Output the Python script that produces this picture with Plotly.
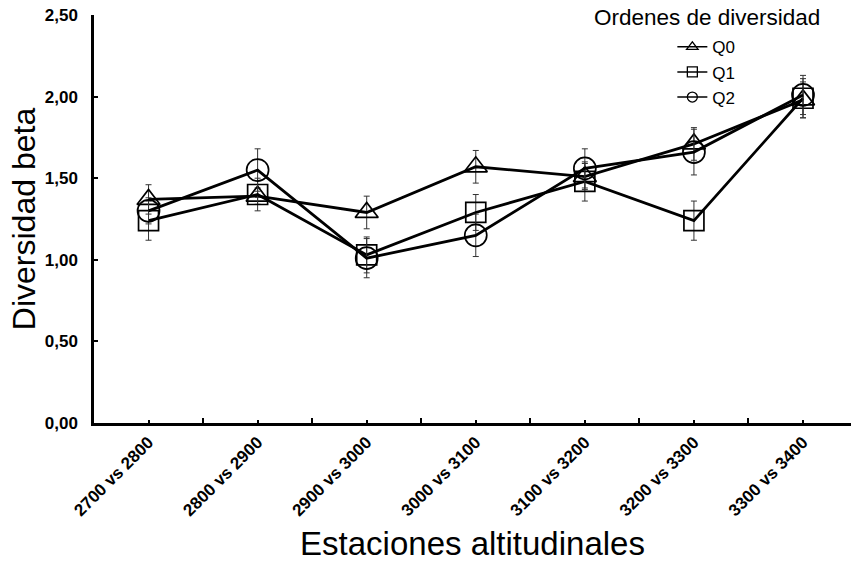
import plotly.graph_objects as go

categories = ["2700 vs 2800", "2800 vs 2900", "2900 vs 3000", "3000 vs 3100",
              "3100 vs 3200", "3200 vs 3300", "3300 vs 3400"]
q0 = [1.37, 1.39, 1.29, 1.57, 1.51, 1.71, 1.98]
q1 = [1.24, 1.40, 1.03, 1.29, 1.48, 1.24, 1.99]
q2 = [1.30, 1.55, 1.01, 1.15, 1.56, 1.66, 2.01]
q0_err = [0.09, 0.05, 0.10, 0.10, 0.08, 0.10, 0.11]
q1_err = [0.12, 0.10, 0.11, 0.11, 0.12, 0.12, 0.12]
q2_err = [0.08, 0.13, 0.12, 0.13, 0.12, 0.14, 0.12]
series_names = ["Q0", "Q1", "Q2"]
y_ticks = [0, 0.5, 1.0, 1.5, 2.0, 2.5]

xpos = list(range(len(categories)))
symbols = ["triangle-up-open", "square-open", "circle-open"]
sizes = [20, 20, 22]

fig = go.Figure()
for name, vals, errs, sym, sz in zip(series_names, [q0, q1, q2], [q0_err, q1_err, q2_err], symbols, sizes):
    fig.add_trace(go.Scatter(
        x=xpos, y=vals, mode="lines+markers", name=name, showlegend=False,
        line=dict(color="black", width=2.8),
        marker=dict(symbol=sym, size=sz, color="black", line=dict(color="black", width=1.7)),
        error_y=dict(type="data", array=errs, visible=True, color="#333", thickness=1, width=3),
    ))
# legend entries
for name, sym in zip(series_names, symbols):
    fig.add_trace(go.Scatter(
        x=[None], y=[None], mode="lines+markers", name=name,
        line=dict(color="black", width=1.5),
        marker=dict(symbol=sym, size=10, color="black", line=dict(color="black", width=1.3)),
    ))

fig.update_layout(
    width=851, height=563,
    margin=dict(l=94, r=0, t=15, b=140, autoexpand=False),
    plot_bgcolor="white", paper_bgcolor="white",
    separators=",.",
    font=dict(family="Liberation Sans, Arial", color="black"),
    legend=dict(
        x=0.764, xanchor="left", y=0.965, yanchor="top",
        font=dict(size=17, color="black"), bgcolor="rgba(0,0,0,0)",
        tracegroupgap=0,
    ),
    annotations=[dict(
        text="Ordenes de diversidad", x=0.81, y=0.993, xref="paper", yref="paper",
        xanchor="center", yanchor="middle", showarrow=False,
        font=dict(size=22.5, color="black"),
    )],
)
fig.update_xaxes(
    range=[-0.5, 6.44], tickmode="array", tickvals=xpos, ticktext=categories,
    tickangle=-45, tickfont=dict(size=17, weight="bold"),
    ticks="inside", ticklen=3, tickwidth=1.5, tickcolor="black",
    minor=dict(tickmode="linear", tick0=-0.5, dtick=1, ticks="inside", ticklen=5, tickwidth=1.5, tickcolor="black"),
    showline=True, linecolor="black", linewidth=2.5, showgrid=False, zeroline=False,
    automargin=False,
    title=dict(text="Estaciones altitudinales", font=dict(size=33), standoff=13),
)
fig.update_yaxes(
    range=[0, 2.5], tickmode="array", tickvals=y_ticks, tickformat=".2f",
    tickfont=dict(size=17, weight="bold"),
    ticks="inside", ticklen=4, tickwidth=1.5, tickcolor="black", ticklabelstandoff=10,
    showline=True, linecolor="black", linewidth=2.5, showgrid=False, zeroline=False,
    automargin=False,
    title=dict(text="Diversidad beta", font=dict(size=32), standoff=0),
)

fig.write_html("out.html", config={"displayModeBar": False},
               post_script="document.body.style.margin='0';")
